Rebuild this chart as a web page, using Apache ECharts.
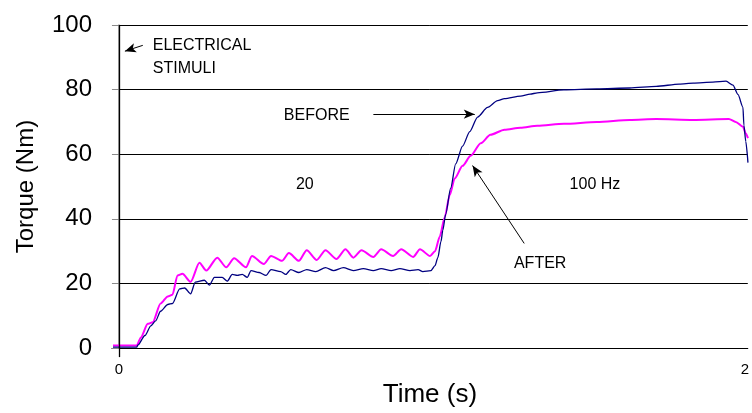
<!DOCTYPE html>
<html>
<head>
<meta charset="utf-8">
<script src="https://cdn.jsdelivr.net/npm/echarts@6/dist/echarts.min.js"></script>
<style>
html,body{margin:0;padding:0;background:#fff;overflow:hidden;}
#chart{width:752px;height:413px;}
</style>
</head>
<body>
<div id="chart"></div>
<script>
// ---- Data (time in s, torque in Nm) ----
var timeBefore = [-0.019,0.057,0.060,0.083,0.102,0.117,0.133,0.156,0.171,0.194,0.210,0.229,0.244,0.273,0.289,0.305,0.330,0.346,0.362,0.378,0.394,0.410,0.422,0.448,0.470,0.486,0.517,0.533,0.549,0.575,0.600,0.629,0.660,0.686,0.717,0.749,0.781,0.813,0.838,0.870,0.898,0.930,0.956,0.971,0.997,1.010,1.019,1.029,1.035,1.044,1.060,1.076,1.098,1.121,1.146,1.178,1.210,1.232,1.283,1.314,1.337,1.422,1.527,1.632,1.717,1.790,1.835,1.898,1.940,1.962,1.978,1.994,1.997,2.003,2.010];
var torqueBefore = [0.3,0.3,0.9,3.9,6.9,8.4,11.4,13.5,13.8,18.3,18.6,16.8,20.4,21.0,19.5,21.9,21.9,20.7,22.8,22.5,22.8,21.9,24.0,23.4,22.5,24.3,23.7,22.8,24.3,23.4,24.3,23.7,24.9,24.0,24.9,24.0,24.6,24.0,24.6,24.0,24.6,24.0,24.3,23.7,24.0,25.5,28.0,33.0,36.5,41.4,49.5,57.0,62.5,67.0,71.5,74.5,76.6,77.2,78.0,78.6,79.0,79.9,80.2,80.5,81.0,81.7,82.0,82.3,82.6,81.4,78.5,74.5,69.0,64.0,57.4];
var timeAfter = [-0.019,0.057,0.070,0.092,0.108,0.133,0.156,0.171,0.187,0.203,0.229,0.257,0.279,0.314,0.343,0.368,0.406,0.425,0.463,0.486,0.521,0.543,0.575,0.600,0.632,0.660,0.695,0.724,0.749,0.775,0.813,0.838,0.876,0.902,0.940,0.962,0.994,1.010,1.025,1.041,1.057,1.073,1.098,1.124,1.156,1.187,1.232,1.283,1.337,1.422,1.527,1.632,1.717,1.835,1.949,1.971,1.994,2.003,2.010];
var torqueAfter = [0.8,0.8,3.3,7.5,8.0,13.8,16.0,16.5,22.5,23.0,20.5,26.4,24.0,28.0,25.0,27.8,25.0,28.5,26.0,28.5,27.0,29.4,27.0,30.3,27.3,30.3,27.6,30.6,28.0,30.3,28.2,30.6,28.5,30.6,28.2,30.6,28.5,30.0,34.5,40.5,47.4,52.5,56.4,59.5,63.4,66.0,67.6,68.2,68.8,69.4,70.0,70.6,70.9,70.6,70.9,70.0,68.5,66.4,65.0];
var xTickLabels = [0, 2];
var yTicks = {min: 0, max: 100, step: 20};
var stimulusTime = 0;
var seriesNames = ['BEFORE', 'AFTER'];

// Annotations (data coordinates)
var annotationTexts = [
  {text: 'ELECTRICAL\nSTIMULI', at: [0.108, 90.0], align: 'left'},
  {text: 'BEFORE', at: [0.632, 72.1], align: 'center'},
  {text: '20', at: [0.594, 50.5], align: 'center'},
  {text: '100 Hz', at: [1.521, 50.75], align: 'center'},
  {text: 'AFTER', at: [1.346, 26.1], align: 'center'}
];
var annotationArrows = [
  {from: [0.0762, 93.7], to: [0.019, 91.9]},
  {from: [0.813, 72.4], to: [1.137, 72.4]},
  {from: [1.295, 32.4], to: [1.130, 56.5]}
];

function zip(a, b) { return a.map(function (v, i) { return [v, b[i]]; }); }

var FONT = 'Liberation Sans, Arial, sans-serif';
var chart = echarts.init(document.getElementById('chart'), null, {renderer: 'canvas', width: 752, height: 413});

var markPointData = annotationTexts.map(function (a) {
  return {
    coord: a.at,
    symbolSize: 0,
    itemStyle: {color: 'rgba(0,0,0,0)'},
    label: {
      show: true,
      formatter: a.text,
      position: a.align === 'left' ? 'right' : 'inside',
      distance: 0,
      color: '#000',
      fontSize: 16,
      fontFamily: FONT,
      lineHeight: 23,
      align: a.align === 'left' ? 'left' : 'center'
    }
  };
});
var markLineData = [{xAxis: stimulusTime, lineStyle: {color: '#000', width: 1.3, type: 'solid'}}];
annotationArrows.forEach(function (a) {
  markLineData.push([{coord: a.from, symbol: 'none'}, {coord: a.to, symbol: 'arrow', symbolSize: [7, 11]}]);
});

var option = {
  animation: false,
  backgroundColor: '#fff',
  grid: {left: 112, right: 0, top: 25, bottom: 55, containLabel: false},
  xAxis: {
    type: 'value',
    min: -0.0222,
    max: 2.0095,
    name: 'Time (s)',
    nameLocation: 'middle',
    nameGap: 27,
    nameTextStyle: {fontSize: 26, fontFamily: FONT, color: '#000'},
    axisLine: {show: true, onZero: false, lineStyle: {color: '#000', width: 1}},
    axisTick: {show: true, customValues: [stimulusTime], length: 9, lineStyle: {color: '#000', width: 1.3}},
    axisLabel: {show: true, customValues: xTickLabels, fontSize: 15, fontFamily: FONT, color: '#000', margin: 14},
    splitLine: {show: false}
  },
  yAxis: {
    type: 'value',
    min: yTicks.min,
    max: yTicks.max,
    interval: yTicks.step,
    name: 'Torque (Nm)',
    nameLocation: 'middle',
    nameGap: 74,
    nameRotate: 90,
    nameTextStyle: {fontSize: 24, fontFamily: FONT, color: '#000'},
    axisLine: {show: true, lineStyle: {color: '#8a8a8a', width: 1.5}},
    axisTick: {show: true, length: 7, lineStyle: {color: '#8a8a8a', width: 1}},
    axisLabel: {fontSize: 24, fontFamily: FONT, color: '#000', margin: 20},
    splitLine: {show: true, lineStyle: {color: '#000', width: 1}}
  },
  series: [
    {
      name: seriesNames[0],
      type: 'line',
      data: zip(timeBefore, torqueBefore),
      showSymbol: false,
      smooth: 0.25,
      smoothMonotone: 'x',
      lineStyle: {color: '#000080', width: 1.3},
      itemStyle: {color: '#000080'},
      z: 3
    },
    {
      name: seriesNames[1],
      type: 'line',
      data: zip(timeAfter, torqueAfter),
      showSymbol: false,
      smooth: 0.25,
      smoothMonotone: 'x',
      lineStyle: {color: '#ff00ff', width: 2},
      itemStyle: {color: '#ff00ff'},
      z: 2
    },
    {
      name: 'annotations',
      type: 'line',
      data: [],
      markLine: {
        silent: true,
        animation: false,
        symbol: ['none', 'none'],
        label: {show: false},
        lineStyle: {color: '#000', width: 1, type: 'solid'},
        data: markLineData
      },
      markPoint: {
        silent: true,
        animation: false,
        data: markPointData
      }
    }
  ]
};
chart.setOption(option);
</script>
</body>
</html>
